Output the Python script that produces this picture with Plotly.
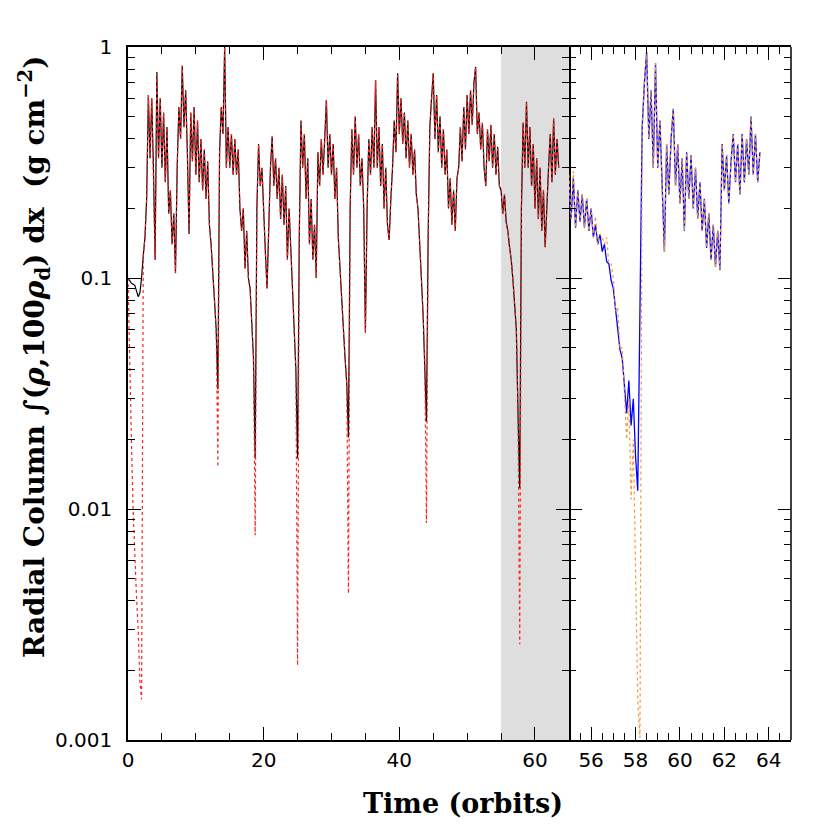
import plotly.graph_objects as go

# main run, sampled every quarter orbit from t = 0
t_start, t_step = 0.0, 0.25
gas_col = [
    0.100, 0.097, 0.095, 0.094,
    0.093, 0.088, 0.083, 0.086,
    0.100, 0.125, 0.150, 0.220,
    0.620, 0.330, 0.600, 0.300,
    0.120, 0.780, 0.330, 0.600,
    0.300, 0.520, 0.260, 0.450,
    0.190, 0.240, 0.140, 0.190,
    0.105, 0.300, 0.550, 0.400,
    0.830, 0.450, 0.650, 0.350,
    0.155, 0.520, 0.320, 0.550,
    0.280, 0.480, 0.260, 0.400,
    0.240, 0.360, 0.220, 0.320,
    0.170, 0.140, 0.100, 0.080,
    0.060, 0.033, 0.350, 0.550,
    0.420, 1.000, 0.300, 0.450,
    0.300, 0.420, 0.280, 0.400,
    0.280, 0.360, 0.200, 0.160,
    0.200, 0.110, 0.160, 0.100,
    0.090, 0.065, 0.045, 0.0166,
    0.200, 0.380, 0.250, 0.300,
    0.180, 0.130, 0.090, 0.180,
    0.300, 0.410, 0.250, 0.330,
    0.220, 0.300, 0.180, 0.280,
    0.170, 0.250, 0.120, 0.200,
    0.120, 0.090, 0.060, 0.040,
    0.0166, 0.150, 0.480, 0.300,
    0.420, 0.220, 0.330, 0.140,
    0.220, 0.120, 0.170, 0.100,
    0.350, 0.250, 0.400, 0.280,
    0.400, 0.590, 0.300, 0.420,
    0.280, 0.380, 0.220, 0.300,
    0.150, 0.110, 0.075, 0.060,
    0.045, 0.035, 0.0204, 0.200,
    0.440, 0.280, 0.500, 0.300,
    0.420, 0.250, 0.330, 0.200,
    0.058, 0.200, 0.400, 0.280,
    0.450, 0.300, 0.720, 0.300,
    0.450, 0.250, 0.380, 0.200,
    0.300, 0.170, 0.146, 0.220,
    0.300, 0.480, 0.350, 0.770,
    0.420, 0.600, 0.380, 0.520,
    0.330, 0.480, 0.300, 0.420,
    0.280, 0.360, 0.230, 0.200,
    0.150, 0.100, 0.070, 0.045,
    0.0239, 0.150, 0.450, 0.600,
    0.770, 0.400, 0.620, 0.350,
    0.500, 0.300, 0.440, 0.280,
    0.360, 0.200, 0.270, 0.170,
    0.240, 0.160, 0.270, 0.300,
    0.450, 0.320, 0.550, 0.360,
    0.620, 0.420, 0.650, 0.460,
    0.700, 0.820, 0.420, 0.520,
    0.360, 0.470, 0.300, 0.250,
    0.440, 0.320, 0.460, 0.300,
    0.420, 0.280, 0.370, 0.250,
    0.240, 0.190, 0.230, 0.175,
    0.160, 0.136, 0.120, 0.098,
    0.075, 0.060, 0.026, 0.0123,
    0.200, 0.470, 0.300, 0.580,
    0.300, 0.450, 0.250, 0.380,
    0.200, 0.330, 0.180, 0.300,
    0.160, 0.240, 0.136, 0.220,
    0.300, 0.420, 0.260, 0.490,
    0.280, 0.400, 0.300,
]
# 100 rho_d follows the gas except where it drops further
dust_dips = {
    0.25: 0.04, 0.5: 0.02, 0.75: 0.01, 1.0: 0.006, 1.25: 0.0042,
    1.5: 0.003, 1.75: 0.0018, 2.0: 0.0015,
    13.25: 0.0152, 18.75: 0.0077, 25.0: 0.0021,
    32.5: 0.0043, 44.0: 0.0087, 57.75: 0.0026,
}

# zoomed window (shaded band), sampled every 0.1 orbit from t = 55
zoom_start, zoom_step = 55.0, 0.1
zoom_gas = [
    0.250, 0.180, 0.270, 0.165, 0.240, 0.175, 0.230, 0.165, 0.220, 0.160,
    0.200, 0.150, 0.170, 0.140, 0.155, 0.130, 0.140, 0.118, 0.115, 0.098,
    0.090, 0.072, 0.062, 0.049, 0.045, 0.033, 0.026, 0.036, 0.023, 0.030,
    0.017, 0.012, 0.100, 0.450, 0.700, 0.950, 0.400, 0.650, 0.300, 0.850,
    0.300, 0.480, 0.250, 0.130, 0.380, 0.230, 0.400, 0.540, 0.250, 0.380,
    0.210, 0.330, 0.160, 0.350, 0.220, 0.340, 0.200, 0.300, 0.180, 0.260,
    0.160, 0.220, 0.135, 0.190, 0.120, 0.170, 0.112, 0.160, 0.108, 0.380,
    0.240, 0.340, 0.210, 0.320, 0.420, 0.260, 0.380, 0.230, 0.420, 0.260,
    0.400, 0.280, 0.500, 0.280, 0.420, 0.260, 0.350,
]
zoom_dust_dev = {
    55.0: 0.28, 55.2: 0.29, 56.2: 0.185, 56.5: 0.15, 56.7: 0.15,
    56.9: 0.115, 57.0: 0.10, 57.2: 0.075, 57.4: 0.05, 57.6: 0.02,
    57.7: 0.03, 57.8: 0.011, 57.9: 0.02, 58.0: 0.005, 58.1: 0.0015,
    58.2: 0.00102,
}

t_main = [round(t_start + i * t_step, 2) for i in range(len(gas_col))]
dust_col = [dust_dips.get(t, v) for t, v in zip(t_main, gas_col)]
t_zoom = [round(zoom_start + i * zoom_step, 1) for i in range(len(zoom_gas))]
zoom_dust = [zoom_dust_dev.get(t, v) for t, v in zip(t_zoom, zoom_gas)]

fig = go.Figure()
fig.add_trace(go.Scatter(x=t_main, y=gas_col, mode='lines',
                         line=dict(color='black', width=1.2), xaxis='x', yaxis='y'))
fig.add_trace(go.Scatter(x=t_main, y=dust_col, mode='lines',
                         line=dict(color='#ff2020', width=1.2, dash='dot'), xaxis='x', yaxis='y'))
fig.add_trace(go.Scatter(x=t_zoom, y=zoom_gas, mode='lines',
                         line=dict(color='#0000ff', width=1.3), xaxis='x2', yaxis='y2'))
fig.add_trace(go.Scatter(x=t_zoom, y=zoom_dust, mode='lines',
                         line=dict(color='#f39a3c', width=1.2, dash='dot'), xaxis='x2', yaxis='y2'))

fig.add_shape(type='rect', xref='x', yref='paper', x0=55, x1=65, y0=0, y1=1,
              fillcolor='#dedede', line_width=0, layer='below')
# right border of the zoom panel (its left border is the main panel's frame)
fig.add_shape(type='line', xref='x2 domain', yref='paper', x0=1, x1=1, y0=0, y1=1,
              line=dict(color='black', width=1.5))

tick_font = dict(family='DejaVu Sans', size=20, color='black')
minor_log = [k * 10 ** e for e in (-3, -2, -1) for k in range(2, 10)]
common_x = dict(ticks='inside', ticklen=13, tickwidth=1.3, tickcolor='black',
                showline=True, linecolor='black', linewidth=1.5, mirror='ticks',
                showgrid=False, zeroline=False, tickfont=tick_font, ticklabelstandoff=1)
common_y = dict(type='log', range=[-3, 0], ticks='inside', ticklen=13, tickwidth=1.3,
                tickcolor='black', linecolor='black', linewidth=1.5,
                mirror='ticks', showgrid=False, zeroline=False, tickfont=tick_font,
                tickvals=[0.001, 0.01, 0.1, 1], ticktext=['0.001', '0.01', '0.1', '1'],
                minor=dict(tickvals=minor_log, ticks='inside', ticklen=7,
                           tickwidth=1.3, tickcolor='black', showgrid=False))

fig.update_layout(
    width=830, height=830,
    margin=dict(l=120, r=47, t=39, b=98),
    plot_bgcolor='white', paper_bgcolor='white', showlegend=False,
    xaxis=dict(domain=[0, 0.665], range=[0, 65], tickvals=[0, 20, 40, 60], anchor='y',
               minor=dict(dtick=5, ticks='inside', ticklen=7, tickwidth=1.3,
                          tickcolor='black', showgrid=False), **common_x),
    xaxis2=dict(domain=[0.665, 1], range=[55, 65], tickvals=[56, 58, 60, 62, 64], anchor='y2',
                minor=dict(dtick=0.5, ticks='inside', ticklen=7, tickwidth=1.3,
                           tickcolor='black', showgrid=False), **common_x),
    yaxis=dict(domain=[0, 1], anchor='x', showline=True, ticklabelstandoff=10, **common_y),
    yaxis2=dict(domain=[0, 1], anchor='x2', showline=False, showticklabels=False, **common_y),
)

fig.add_annotation(text='<b>Time (orbits)</b>', xref='paper', yref='paper',
                   x=0.505, y=-0.091, xanchor='center', yanchor='middle', showarrow=False,
                   font=dict(family='DejaVu Serif', size=27, color='black'))
fig.add_annotation(text='<b>Radial Column ∫(<i>ρ</i>,100<i>ρ</i><sub>d</sub>) dx  (g cm<sup>−2</sup>)</b>',
                   xref='paper', yref='paper', x=-0.14, y=0.553, textangle=-90,
                   xanchor='center', yanchor='middle', showarrow=False,
                   font=dict(family='DejaVu Serif', size=28, color='black'))

fig.write_html("out.html")
